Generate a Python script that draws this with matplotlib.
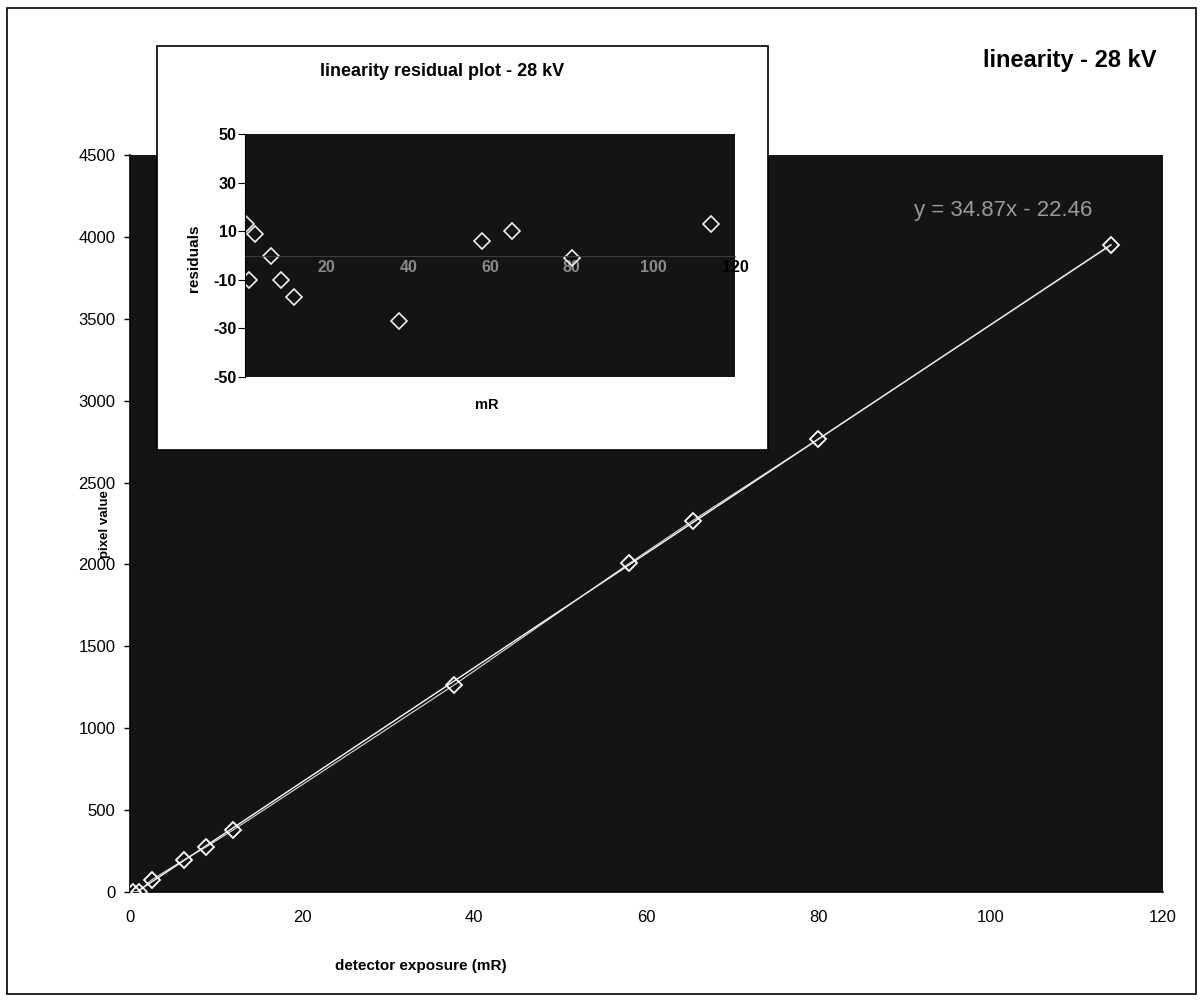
import numpy as np
import matplotlib
matplotlib.use("Agg")
import matplotlib.pyplot as plt
from matplotlib.patches import Rectangle

plt.rcParams['font.family'] = ['Liberation Sans', 'DejaVu Sans']
plt.rcParams['axes.unicode_minus'] = False

# ---- data ----
exposure_mR = [0.3, 1.0, 2.5, 6.3, 8.8, 12.0, 37.6, 58.0, 65.4, 80.0, 114.0]
pixel_value = [1, 2, 74, 197, 274, 379, 1262, 2006, 2268, 2766, 3950]
residuals = [13, -10, 9, 0, -10, -17, -27, 6, 10, -1, 13]
main_xticks = [0, 20, 40, 60, 80, 100, 120]
main_yticks = [0, 500, 1000, 1500, 2000, 2500, 3000, 3500, 4000, 4500]
res_xticks = [20, 40, 60, 80, 100, 120]
res_yticks = [-50, -30, -10, 10, 30, 50]
equation = "y = 34.87x - 22.46"

BG = '#141414'

fig = plt.figure(figsize=(12.02, 10), dpi=100)
fig.patch.set_facecolor('white')

# outer border
fig.add_artist(Rectangle((0.006, 0.006), 0.989, 0.986, transform=fig.transFigure,
                         fill=False, edgecolor='black', linewidth=1.2))

# ---- main axes ----
ax = fig.add_axes([0.1082, 0.108, 0.859, 0.737])
ax.set_facecolor(BG)
x = np.array(exposure_mR)
y = np.array(pixel_value)
coef = np.polyfit(x, y, 1)
xt = np.array([0, max(exposure_mR)])
ax.plot(xt, np.polyval(coef, xt), color='white', lw=1.0, zorder=2)
ax.plot(x, y, color='#dddddd', lw=0.8, zorder=3)
ax.plot(x, y, linestyle='none', marker='D', markersize=8, markerfacecolor='none',
        markeredgecolor='white', markeredgewidth=1.3, zorder=4)
ax.set_xlim(0, 120)
ax.set_ylim(0, 4500)
ax.set_xticks(main_xticks)
ax.set_yticks(main_yticks)
ax.tick_params(axis='both', direction='out', length=4.5, width=1, labelsize=12)
ax.tick_params(axis='x', pad=13, length=0)
ax.tick_params(axis='y', pad=6)
for s in ['top', 'right']:
    ax.spines[s].set_visible(False)
ax.spines['left'].set_linewidth(1.2)
ax.spines['bottom'].set_linewidth(1.2)
ax.text(101.5, 4160, equation, color='#9a9a9a', fontsize=16, ha='center', va='center')

fig.text(0.35, 0.034, 'detector exposure (mR)', fontsize=11, fontweight='bold', ha='center', va='center')
fig.text(0.087, 0.476, 'pixel value', fontsize=9.5, fontweight='bold', ha='center', va='center', rotation=90)
fig.text(0.890, 0.94, 'linearity - 28 kV', fontsize=17, fontweight='bold', ha='center', va='center')

# ---- inset box ----
fig.add_artist(Rectangle((0.1306, 0.55), 0.5083, 0.404, transform=fig.transFigure,
                         facecolor='white', edgecolor='black', linewidth=1.2, zorder=5))

ax2 = fig.add_axes([0.2038, 0.623, 0.4077, 0.243], zorder=6)
ax2.set_facecolor(BG)
ax2.plot(exposure_mR, residuals, linestyle='none', marker='D', markersize=8,
         markerfacecolor='none', markeredgecolor='#eeeeee', markeredgewidth=1.2)
ax2.set_xlim(0, 120)
ax2.set_ylim(-50, 50)
ax2.set_yticks(res_yticks)
ax2.set_xticks(res_xticks)
ax2.spines['bottom'].set_position(('data', 0))
ax2.spines['bottom'].set_color('#444444')
ax2.spines['bottom'].set_linewidth(0.6)
for s in ['top', 'right']:
    ax2.spines[s].set_visible(False)
ax2.tick_params(axis='y', direction='out', length=5, labelsize=11.5, pad=1)
ax2.tick_params(axis='x', length=0, labelsize=11.5, pad=3, labelcolor='#8a8a8a')
for lab in ax2.get_yticklabels() + ax2.get_xticklabels():
    lab.set_fontweight('bold')
for lab in ax2.get_xticklabels():
    if lab.get_text() == '120':
        lab.set_color('black')
fig.text(0.368, 0.928, 'linearity residual plot - 28 kV', fontsize=13, fontweight='bold',
         ha='center', va='center', zorder=7)
fig.text(0.161, 0.742, 'residuals', fontsize=11, fontweight='bold', ha='center', va='center',
         rotation=90, zorder=7)
fig.text(0.405, 0.595, 'mR', fontsize=10.5, fontweight='bold', ha='center', va='center', zorder=7)

fig.savefig('out.png', dpi=100, facecolor='white')
